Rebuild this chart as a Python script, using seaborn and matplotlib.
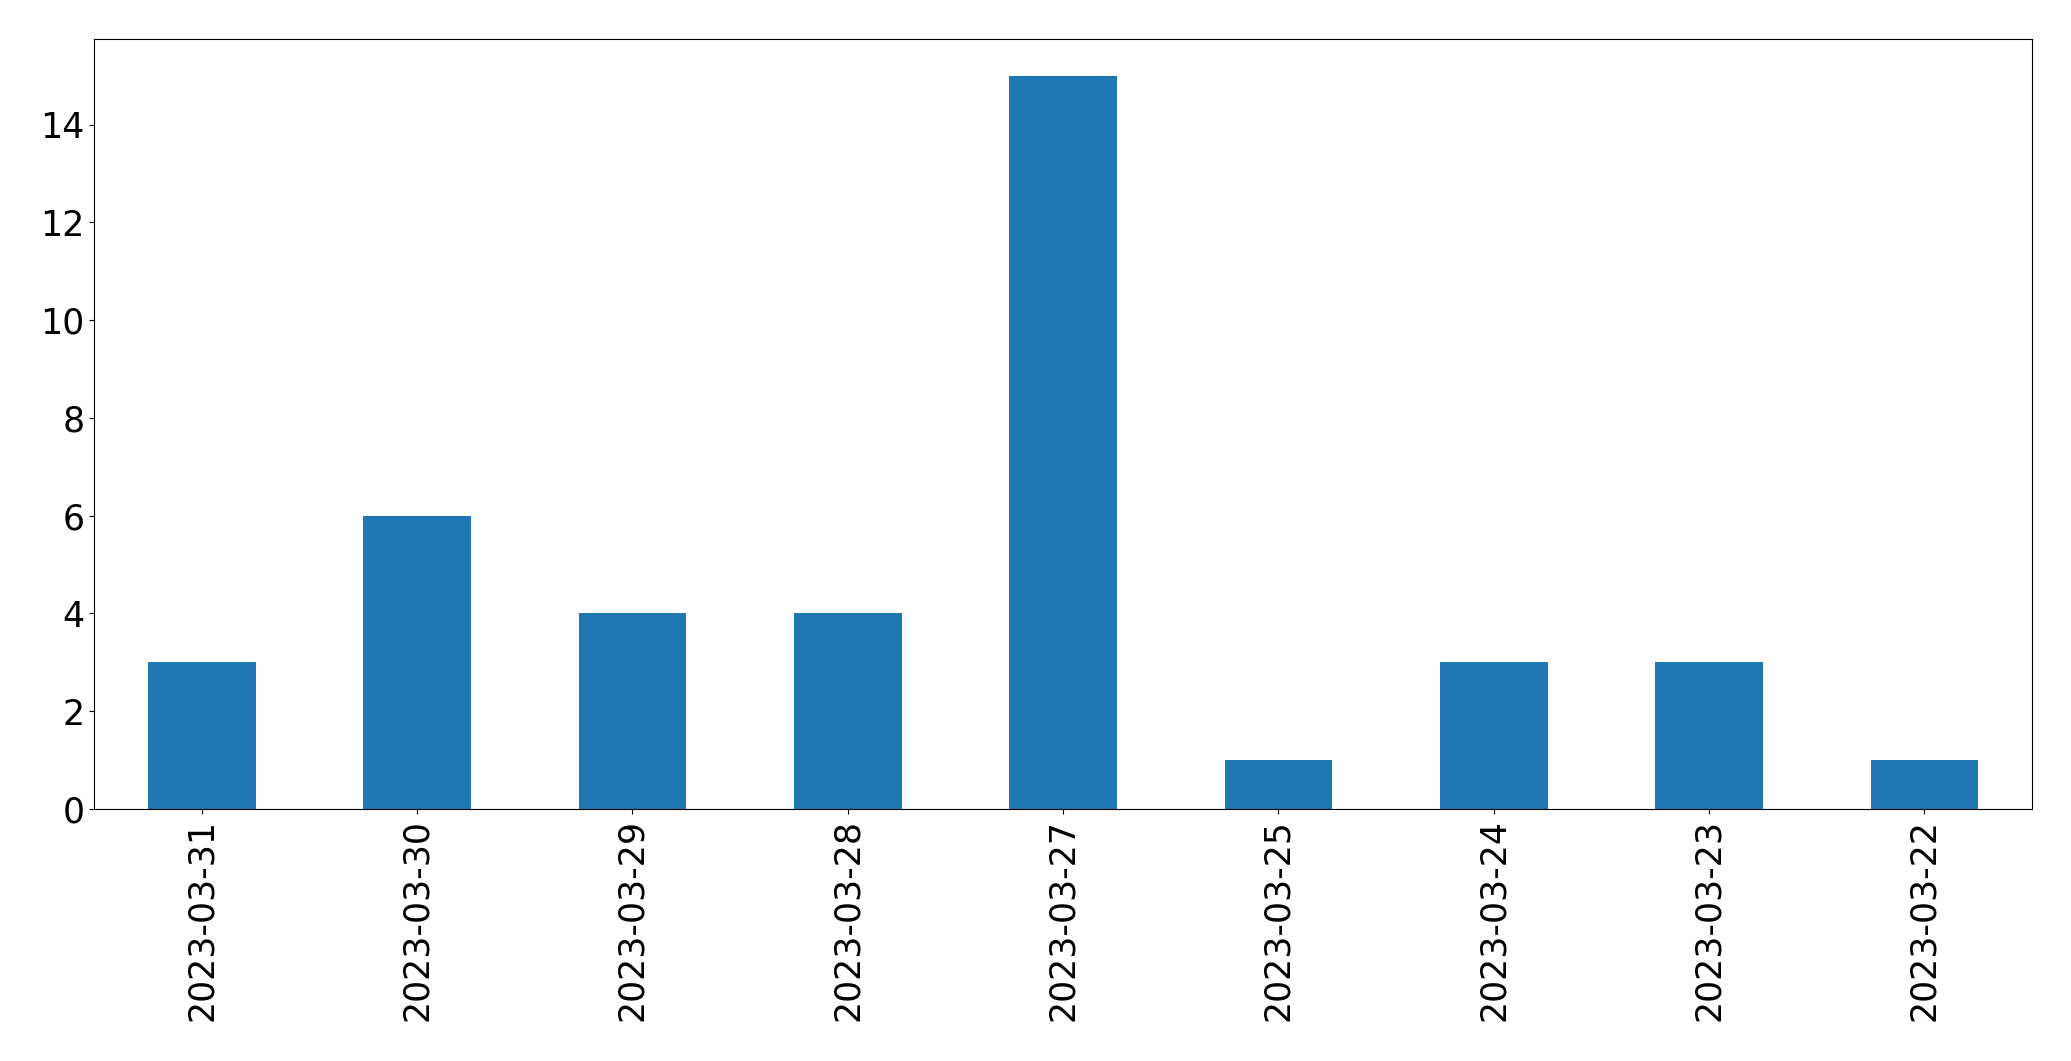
import pandas as pd
import matplotlib
matplotlib.use("Agg")
import matplotlib.pyplot as plt
import seaborn as sns

dates = ['2023-03-31', '2023-03-30', '2023-03-29', '2023-03-28', '2023-03-27',
         '2023-03-25', '2023-03-24', '2023-03-23', '2023-03-22']
counts = [3, 6, 4, 4, 15, 1, 3, 3, 1]

df = pd.DataFrame({'date': dates, 'count': counts})

fig = plt.figure(figsize=(20.71, 10.61), dpi=100)
ax = fig.add_axes([0.0454, 0.2375, 0.9358, 0.7257])

sns.barplot(data=df, x='date', y='count', order=dates, color='#1f77b4',
            saturation=1, width=0.5, linewidth=0, ax=ax)

ax.set_xlim(-0.5, len(dates) - 0.5)
ax.set_ylim(0, max(counts) * 1.05)
ax.set_xlabel('')
ax.set_ylabel('')
ax.tick_params(axis='both', labelsize=25)
ax.tick_params(axis='x', labelrotation=90)

fig.savefig('out.png', dpi=100)
